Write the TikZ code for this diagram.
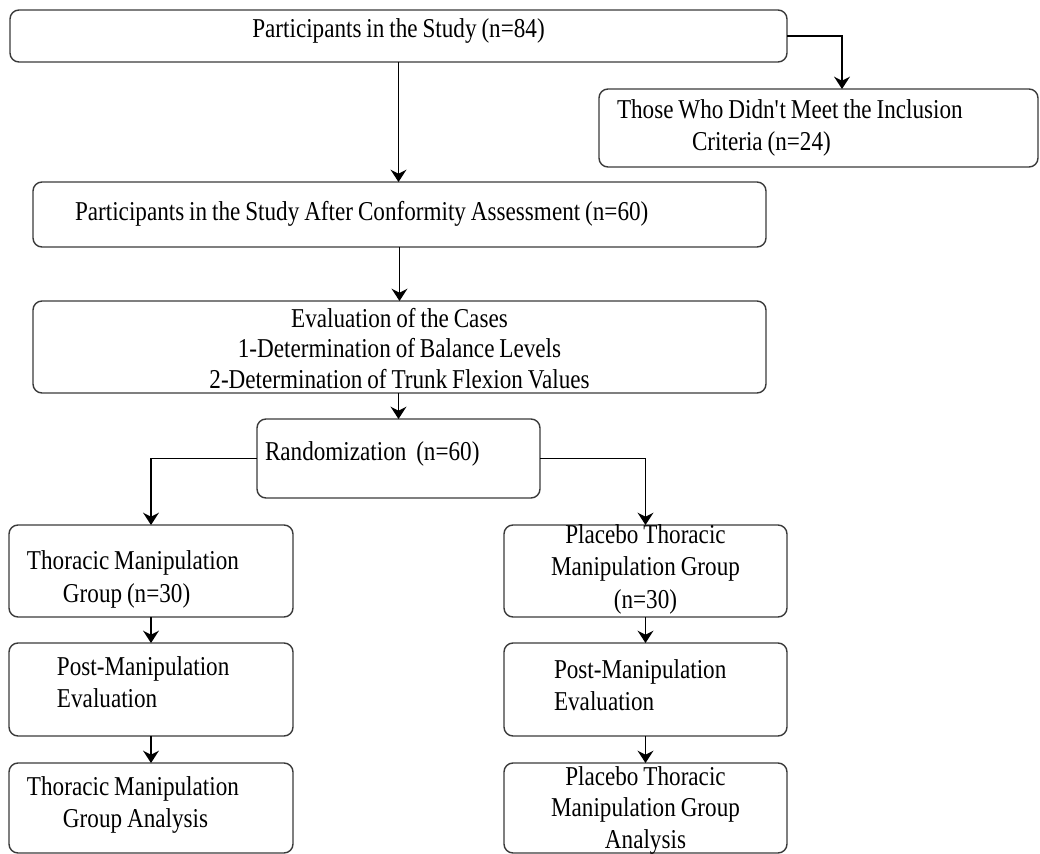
\documentclass[tikz,border=0pt]{standalone}
\usepackage{fontspec}
\setmainfont{Liberation Serif}[FakeStretch=0.85]
\usetikzlibrary{positioning,arrows.meta}
\definecolor{BoxGray}{HTML}{3A3A3A}
\newcommand\tightsp{\spaceskip=0.18em\relax\xspaceskip=0.18em\relax}

\begin{document}
\begin{tikzpicture}[node distance=0.52cm,>={Stealth[length=7pt,width=9pt]}]
\tikzstyle{box}=[rectangle,rounded corners=0.18cm,draw=BoxGray,line width=0.8pt,inner ysep=0pt,outer sep=0pt,text height=0.3cm,font=\fontsize{15.5pt}{18.7pt}\selectfont,execute at begin node=\tightsp]
\tikzstyle{flow}=[->,line width=0.9pt]
\useasboundingbox (0,0) rectangle (20.8,-17.08);
\node[box,minimum height=1.04cm,text width=15.54cm,inner xsep=0pt,align=center,text depth=0.26cm] (p84) at (7.97,-0.72) {Participants in the Study (n=84)};
\node[box,below=0.54cm of p84.south east,xshift=0.63cm,minimum height=1.56cm,text width=8.06cm,inner xsep=0.36cm,align=left,text depth=0.7cm] (excl) {Those Who Didn\textquotesingle t Meet the Inclusion\\\hspace*{1.5cm}Criteria (n=24)};
\node[box,below=2.4cm of p84,xshift=0.02cm,minimum height=1.3cm,text width=12.98cm,inner xsep=0.84cm,align=left,text depth=0.08cm] (p60) {Participants in the Study After Conformity Assessment (n=60)};
\node[box,below=1.08cm of p60,minimum height=1.84cm,text width=14.66cm,inner xsep=0pt,align=center,text depth=1.1cm,font=\fontsize{15.5pt}{17.6pt}\selectfont] (eval) {Evaluation of the Cases\\1-Determination of Balance Levels\\2-Determination of Trunk Flexion Values};
\node[box,below=0.52cm of eval,xshift=-0.02cm,minimum height=1.58cm,text width=5.34cm,inner xsep=0.16cm,align=left,text depth=0.24cm] (rand) {Randomization~ (n=60)};
\node[box,below=0.54cm of rand,xshift=-4.95cm,minimum height=1.84cm,text width=4.96cm,inner xsep=0.36cm,align=left,text depth=0.36cm] (tmg) {Thoracic Manipulation\\\hspace*{0.72cm}Group (n=30)};
\node[box,right=4.22cm of tmg,minimum height=1.84cm,text width=5.66cm,inner xsep=0pt,align=center,text depth=1.42cm] (ptmg) {Placebo Thoracic\\Manipulation Group\\(n=30)};
\node[box,below=of tmg,minimum height=1.86cm,text width=3.76cm,inner xsep=0.96cm,align=left,text depth=0.88cm] (tpost) {Post-Manipulation\\Evaluation};
\node[box,below=of ptmg,minimum height=1.86cm,text width=3.66cm,inner xsep=1cm,align=left,text depth=0.76cm] (ppost) {Post-Manipulation\\Evaluation};
\node[box,below=0.54cm of tpost,minimum height=1.8cm,text width=4.96cm,inner xsep=0.36cm,align=left,text depth=0.82cm] (tana) {Thoracic Manipulation\\\hspace*{0.72cm}Group Analysis};
\node[box,below=0.54cm of ppost,minimum height=1.8cm,text width=5.66cm,inner xsep=0pt,align=center,text depth=1.22cm,font=\fontsize{15.5pt}{18.2pt}\selectfont] (pana) {Placebo Thoracic\\Manipulation Group\\Analysis};
\draw[flow] (p84.south) -- (p84.south |- p60.north);
\draw[flow] (p84.east) -| ([xshift=0.47cm]excl.north);
\draw[flow] (p60.south) -- (eval.north);
\draw[flow] (eval.south -| rand.north) -- (rand.north);
\draw[flow] (rand.west) -| (tmg.north);
\draw[flow] (rand.east) -| (ptmg.north);
\draw[flow] (tmg) -- (tpost);
\draw[flow] (tpost) -- (tana);
\draw[flow] (ptmg) -- (ppost);
\draw[flow] (ppost) -- (pana);
\end{tikzpicture}
\end{document}
